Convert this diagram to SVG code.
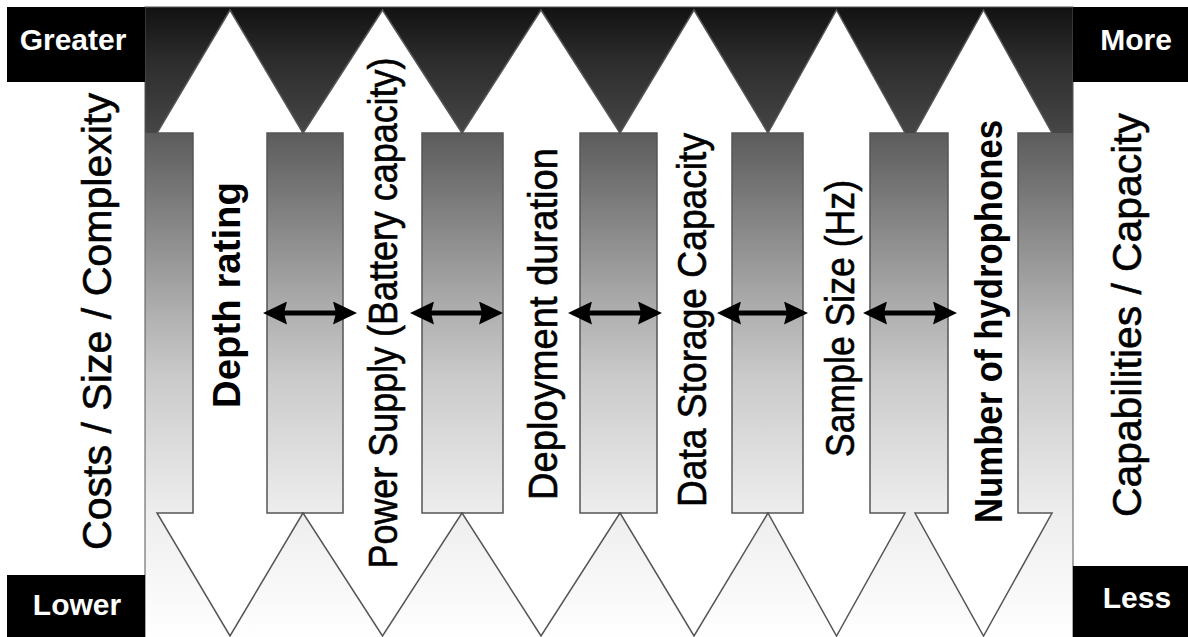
<svg xmlns="http://www.w3.org/2000/svg" width="1188" height="637" viewBox="0 0 1188 637">
<defs>
<linearGradient id="bg" x1="0" y1="0" x2="0" y2="1">
<stop offset="0" stop-color="#121212"/>
<stop offset="0.084" stop-color="#2c2c2c"/>
<stop offset="0.199" stop-color="#464646"/>
<stop offset="0.2" stop-color="#5c5c5c"/>
<stop offset="0.41" stop-color="#9a9a9a"/>
<stop offset="0.486" stop-color="#b0b0b0"/>
<stop offset="0.584" stop-color="#cacaca"/>
<stop offset="0.803" stop-color="#eeeeee"/>
<stop offset="1" stop-color="#ffffff"/>
</linearGradient>
<marker id="ah" viewBox="0 0 24 23" markerWidth="24" markerHeight="23" refX="12" refY="11.5" orient="auto-start-reverse" markerUnits="userSpaceOnUse">
<path d="M0,0 L24,11.5 L0,23 L3,11.5 Z" fill="#000"/>
</marker>
</defs>
<style>
.arrow{fill:#ffffff;stroke:#555555;stroke-width:1.5;stroke-linejoin:miter}
.lbl{font-family:"Liberation Sans",Arial,sans-serif;font-size:40px;fill:#000;stroke:#000;stroke-width:0.6;text-anchor:middle}
.b{font-weight:bold;font-size:38px;stroke-width:0}
.box{fill:#000}
.boxt{font-family:"Liberation Sans",Arial,sans-serif;font-size:30px;font-weight:bold;fill:#fff;text-anchor:middle}
.conn{stroke:#000;stroke-width:5;fill:none;marker-start:url(#ah);marker-end:url(#ah)}
</style>
<rect x="0" y="0" width="1188" height="637" fill="#ffffff"/>
<rect id="panel" x="145" y="7" width="928" height="632" fill="url(#bg)" stroke="#555" stroke-width="1"/>
<g id="left-scale">
<rect class="box" x="7" y="7" width="138" height="75"/>
<text class="boxt" x="73" y="50">Greater</text>
<rect class="box" x="7" y="575" width="138" height="62"/>
<text class="boxt" x="77" y="615">Lower</text>
<text class="lbl" transform="translate(111,321.5) rotate(-90)" textLength="457" lengthAdjust="spacingAndGlyphs">Costs / Size / Complexity</text>
</g>
<g id="right-scale">
<rect class="box" x="1073" y="7" width="115" height="75"/>
<text class="boxt" x="1136" y="50">More</text>
<rect class="box" x="1073" y="566" width="115" height="71"/>
<text class="boxt" x="1137" y="608">Less</text>
<text class="lbl" transform="translate(1141,315) rotate(-90)" textLength="404" lengthAdjust="spacingAndGlyphs">Capabilities / Capacity</text>
</g>
<g id="arrow-depth">
<polygon class="arrow" points="230,10 303,133 267,133 267,513 303,513 230,636 157,513 193,513 193,133 157,133"/>
<text class="lbl b" transform="translate(240,295) rotate(-90)" textLength="226" lengthAdjust="spacingAndGlyphs">Depth rating</text>
</g>
<g id="arrow-power">
<polygon class="arrow" points="382.5,10 462,133 422,133 422,513 462,513 382.5,636 303,513 343,513 343,133 303,133"/>
<text class="lbl" transform="translate(397,313) rotate(-90)" textLength="511" lengthAdjust="spacingAndGlyphs">Power Supply (Battery capacity)</text>
</g>
<g id="arrow-deployment">
<polygon class="arrow" points="541,10 620,133 580,133 580,513 620,513 541,636 462,513 503,513 503,133 462,133"/>
<text class="lbl" transform="translate(557,324) rotate(-90)" textLength="352" lengthAdjust="spacingAndGlyphs">Deployment duration</text>
</g>
<g id="arrow-storage">
<polygon class="arrow" points="694,10 768,133 732,133 732,513 768,513 694,636 620,513 657,513 657,133 620,133"/>
<text class="lbl" transform="translate(706,320) rotate(-90)" textLength="374" lengthAdjust="spacingAndGlyphs">Data Storage Capacity</text>
</g>
<g id="arrow-sample">
<polygon class="arrow" points="836.5,10 905,133 870,133 870,513 905,513 836.5,636 768,513 803,513 803,133 768,133"/>
<text class="lbl" transform="translate(854,318.5) rotate(-90)" textLength="277" lengthAdjust="spacingAndGlyphs">Sample Size (Hz)</text>
</g>
<g id="arrow-hydrophones">
<polygon class="arrow" points="983.5,10 1052,133 1018,133 1018,513 1052,513 983.5,636 915,513 948,513 948,133 915,133"/>
<text class="lbl b" transform="translate(1002,321.5) rotate(-90)" textLength="403" lengthAdjust="spacingAndGlyphs">Number of hydrophones</text>
</g>
<g id="connectors">
<line class="conn" x1="275" y1="313" x2="345" y2="313"/>
<line class="conn" x1="422" y1="313" x2="491" y2="313"/>
<line class="conn" x1="580" y1="313" x2="650" y2="313"/>
<line class="conn" x1="729" y1="313" x2="796" y2="313"/>
<line class="conn" x1="875" y1="313" x2="945" y2="313"/>
</g>
</svg>
